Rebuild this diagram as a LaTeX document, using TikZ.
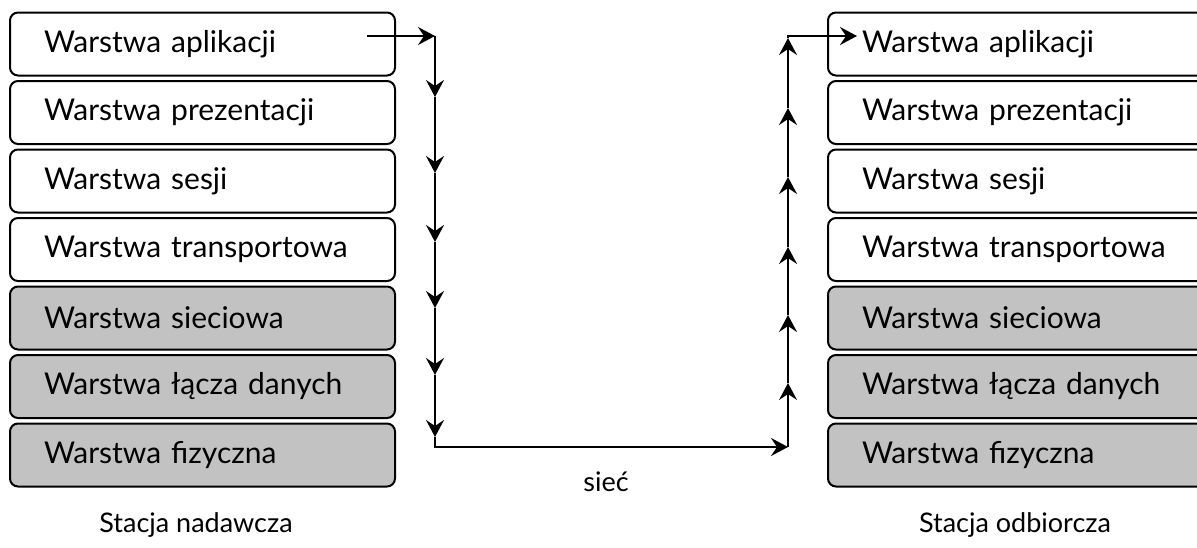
\documentclass[tikz,border=0pt]{standalone}
\usepackage{fontspec}
\setmainfont{Lato}
\usetikzlibrary{arrows.meta}
\tikzset{
  warstwa/.style={draw, rounded corners=4pt, line width=1pt, minimum height=31.5pt,
    text width=158.5pt, inner xsep=17pt, align=left, font=\fontsize{15}{17}\selectfont},
  dolna/.style={warstwa, fill=black!24},
  strz/.style={line width=0.9pt, -{Stealth[length=8.5pt,width=9pt,inset=3pt]}},
  podpis/.style={font=\fontsize{13.5}{15}\selectfont},
}
\begin{document}
\begin{tikzpicture}[x=0.5pt, y=-0.5pt]
\clip (0,0) rectangle (1197,547);
% stacja nadawcza
\node[warstwa] (l1) at (202.5,44) {Warstwa aplikacji};
\node[warstwa] (l2) at (202.5,112.5) {Warstwa prezentacji};
\node[warstwa] (l3) at (202.5,181) {Warstwa sesji};
\node[warstwa] (l4) at (202.5,249.5) {Warstwa transportowa};
\node[dolna] (l5) at (202.5,318) {Warstwa sieciowa};
\node[dolna] (l6) at (202.5,386.5) {Warstwa łącza danych};
\node[dolna] (l7) at (202.5,455) {Warstwa fizyczna};
\node[podpis] (nad) at (196,525) {Stacja nadawcza};
% stacja odbiorcza
\node[warstwa] (r1) at (1020.5,44) {Warstwa aplikacji};
\node[warstwa] (r2) at (1020.5,112.5) {Warstwa prezentacji};
\node[warstwa] (r3) at (1020.5,181) {Warstwa sesji};
\node[warstwa] (r4) at (1020.5,249.5) {Warstwa transportowa};
\node[dolna] (r5) at (1020.5,318) {Warstwa sieciowa};
\node[dolna] (r6) at (1020.5,386.5) {Warstwa łącza danych};
\node[dolna] (r7) at (1020.5,455) {Warstwa fizyczna};
\node[podpis] (odb) at (1015,525) {Stacja odbiorcza};
\node[podpis] (siec) at (606,482) {sieć};
% w dol
\coordinate (s0) at (367,36);
\coordinate (k0) at (435,36);
\coordinate (d1) at (435,97);
\coordinate (d2) at (435,173);
\coordinate (d3) at (435,242);
\coordinate (d4) at (435,308);
\coordinate (d5) at (435,375);
\coordinate (d6) at (435,437);
\coordinate (kd) at (435,447);
\coordinate (ku) at (788,447);
% w gore
\coordinate (u1) at (788,383);
\coordinate (u2) at (788,315);
\coordinate (u3) at (788,247);
\coordinate (u4) at (788,177);
\coordinate (u5) at (788,108);
\coordinate (u6) at (788,38);
\coordinate (kg) at (788,36);
\coordinate (e0) at (857,36);
\draw[strz] (s0) -- (k0);
\draw[strz] (k0) -- (d1);
\draw[strz] (d1) -- (d2);
\draw[strz] (d2) -- (d3);
\draw[strz] (d3) -- (d4);
\draw[strz] (d4) -- (d5);
\draw[strz] (d5) -- (d6);
\draw[strz] (d6) -- (kd) -- (ku);
\draw[strz] (ku) -- (u1);
\draw[strz] (u1) -- (u2);
\draw[strz] (u2) -- (u3);
\draw[strz] (u3) -- (u4);
\draw[strz] (u4) -- (u5);
\draw[strz] (u5) -- (u6);
\draw[strz] (u6) -- (kg) -- (e0);
\end{tikzpicture}
\end{document}
